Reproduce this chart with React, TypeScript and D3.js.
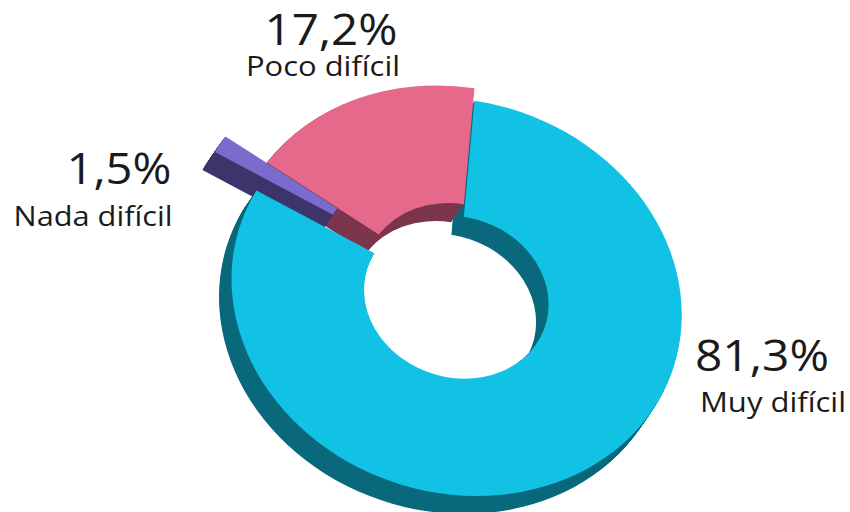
import React from "react";
import * as d3 from "d3";

const categories = ["Muy difícil", "Nada difícil", "Poco difícil"];
const values = [81.3, 1.5, 17.2];
const valueLabels = ["81,3%", "1,5%", "17,2%"];
const faceColors = ["#12C2E5", "#7B6BCC", "#E5698B"];
const sideColors = ["#0A697C", "#3E356C", "#7B364B"];
const offsets: [number, number][] = [[0, 0], [-41.5, -38.5], [0, -12.5]];
const drawOrder = [0, 2, 1];
const valuePos: [number, number][] = [[762, 371], [119, 184], [331, 45]];
const valueWidths = [134, 105, 133];
const namePos: [number, number][] = [[773, 412], [93, 226], [323, 76]];
const nameWidths = [146, 159, 154];

const W = 850, H = 512, CX = 456.5, CY = 297, RX = 228, RY = 195.7, TILT = 18;
const DEPTH_X = -12.5, DEPTH_Y = 18, STEPS = 22;
const START = (-11 * Math.PI) / 180;

const pie = d3.pie<number>().sort(null).startAngle(START).endAngle(START + 2 * Math.PI);
const arc = d3.arc<d3.PieArcDatum<number>>().innerRadius(0.41).outerRadius(1);

export default function App() {
  const slices = pie(values);
  const font = "'Open Sans', 'Noto Sans', sans-serif";
  const place = (x: number, y: number) => `translate(${x},${y}) rotate(${TILT}) scale(${RX},${RY})`;
  return (
    <svg width={W} height={H} style={{ position: "absolute", left: 0, top: 0, background: "#fff" }} fontFamily={font}>
      {drawOrder.map((i) => {
        const d = arc(slices[i]) as string;
        const [ox, oy] = offsets[i];
        return (
          <g key={categories[i]}>
            {d3.range(STEPS, 0, -1).map((s) => (
              <path
                key={s}
                d={d}
                fill={sideColors[i]}
                transform={place(CX + ox + (DEPTH_X * s) / STEPS, CY + oy + (DEPTH_Y * s) / STEPS)}
              />
            ))}
          </g>
        );
      })}
      {drawOrder.map((i) => (
        <path
          key={categories[i]}
          d={arc(slices[i]) as string}
          fill={faceColors[i]}
          transform={place(CX + offsets[i][0], CY + offsets[i][1])}
        />
      ))}
      {categories.map((c, i) => (
        <g key={c} fill="#1a1a1a" textAnchor="middle">
          <text x={valuePos[i][0]} y={valuePos[i][1]} fontSize={44} textLength={valueWidths[i]} lengthAdjust="spacingAndGlyphs">{valueLabels[i]}</text>
          <text x={namePos[i][0]} y={namePos[i][1]} fontSize={28} textLength={nameWidths[i]} lengthAdjust="spacingAndGlyphs">{c}</text>
        </g>
      ))}
    </svg>
  );
}
